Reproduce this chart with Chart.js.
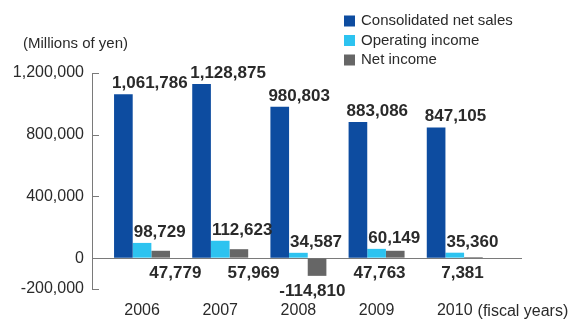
<!DOCTYPE html>
<html>
<head>
<meta charset="utf-8">
<script src="https://cdn.jsdelivr.net/npm/chart.js@4.4.1/dist/chart.umd.min.js"></script>
<style>
  html, body { margin: 0; padding: 0; background: #ffffff; }
  #wrap { width: 578px; height: 320px; position: relative; }
</style>
</head>
<body>
<div id="wrap"><canvas id="chart" width="578" height="320"></canvas></div>
<script>
// Fiscal years and results, millions of yen
const categories = ['2006', '2007', '2008', '2009', '2010'];
const netSales = [1061786, 1128875, 980803, 883086, 847105];
const operatingIncome = [98729, 112623, 34587, 60149, 35360];
const netIncome = [47779, 57969, -114810, 47763, 7381];
const yTicks = [-200000, 0, 400000, 800000, 1200000];

const seriesNames = ['Consolidated net sales', 'Operating income', 'Net income'];
const seriesColors = ['#0d4ca0', '#2dc3f0', '#666666'];
const netLabelAlign = ['left', 'left', 'center', 'right', 'right'];

const FONT = '"Liberation Sans", Arial, Helvetica, sans-serif';
const TEXT = '#2a2a2a';
const AXIS = '#7a7a7a';

const toPoints = arr => arr.map((v, i) => ({ x: i, y: v }));
const fmt = v => v.toLocaleString('en-US');

// value labels, axis tick marks, unit caption and stacked legend
const decorations = {
  id: 'decorations',
  afterDatasetsDraw(chart) {
    const ctx = chart.ctx;
    ctx.save();
    ctx.fillStyle = TEXT;
    ctx.font = 'bold 17px ' + FONT;
    ctx.textBaseline = 'alphabetic';
    chart.data.datasets.forEach((ds, di) => {
      const meta = chart.getDatasetMeta(di);
      meta.data.forEach((bar, i) => {
        const v = ds.data[i].y;
        const half = bar.width / 2;
        if (di < 2) {
          ctx.textAlign = 'left';
          const x = di === 0 ? bar.x - half - 2 : bar.x - half + 1;
          ctx.fillText(fmt(v), x, bar.y - 6);
        } else {
          const align = netLabelAlign[i];
          ctx.textAlign = align;
          let x = bar.x - half / 2;
          if (align === 'left') x = bar.x - half - 2;
          if (align === 'right') x = bar.x + half + 1;
          ctx.fillText(fmt(v), x, Math.max(bar.y, bar.base) + 20);
        }
      });
    });
    ctx.restore();
  },
  afterDraw(chart) {
    const ctx = chart.ctx;
    const y = chart.scales.y;
    const x = chart.scales.x;
    const area = chart.chartArea;
    ctx.save();
    // inward tick marks on the value axis
    ctx.strokeStyle = AXIS;
    ctx.lineWidth = 1;
    y.ticks.forEach(t => {
      const py = Math.round(y.getPixelForValue(t.value)) + 0.5;
      ctx.beginPath();
      ctx.moveTo(area.left, py);
      ctx.lineTo(area.left + 7, py);
      ctx.stroke();
    });
    // unit caption
    ctx.fillStyle = TEXT;
    ctx.font = '15px ' + FONT;
    ctx.textAlign = 'left';
    ctx.textBaseline = 'middle';
    ctx.fillText('(Millions of yen)', 23, 44);
    // suffix after the last year label
    ctx.font = '16px ' + FONT;
    const lastX = x.getPixelForValue(categories.length - 1);
    const w = ctx.measureText(categories[categories.length - 1]).width;
    ctx.fillText('(fiscal years)', lastX + w / 2 + 5, 312);
    // legend
    ctx.font = '15px ' + FONT;
    chart.data.datasets.forEach((ds, i) => {
      const cy = 21 + i * 19.5;
      ctx.fillStyle = ds.backgroundColor;
      ctx.fillRect(344, cy - 5.5, 11, 11);
      ctx.fillStyle = TEXT;
      ctx.fillText(ds.label, 361, cy);
    });
    ctx.restore();
  }
};

new Chart(document.getElementById('chart'), {
  type: 'bar',
  data: {
    datasets: [
      { label: seriesNames[0], data: toPoints(netSales), backgroundColor: seriesColors[0] },
      { label: seriesNames[1], data: toPoints(operatingIncome), backgroundColor: seriesColors[1] },
      { label: seriesNames[2], data: toPoints(netIncome), backgroundColor: seriesColors[2] }
    ]
  },
  options: {
    responsive: false,
    animation: false,
    devicePixelRatio: 1,
    categoryPercentage: 0.716,
    barPercentage: 1.0,
    layout: { padding: { left: 0, top: 73, right: 56, bottom: 0 } },
    plugins: {
      legend: { display: false },
      tooltip: { enabled: false }
    },
    scales: {
      x: {
        type: 'linear',
        offset: false,
        min: -0.64,
        max: 4.86,
        afterBuildTicks: s => { s.ticks = categories.map((_, i) => ({ value: i })); },
        afterFit: s => { s.height = 31; },
        grid: { display: false, drawTicks: false },
        border: { display: false },
        ticks: {
          autoSkip: false,
          maxRotation: 0,
          padding: 12,
          color: TEXT,
          font: { family: FONT, size: 16 },
          callback: v => categories[v]
        }
      },
      y: {
        min: -200000,
        max: 1200000,
        afterBuildTicks: s => { s.ticks = yTicks.map(v => ({ value: v })); },
        afterFit: s => { s.width = 92; },
        grid: {
          drawTicks: false,
          color: c => (c.tick && c.tick.value === 0 ? AXIS : 'rgba(0,0,0,0)'),
          lineWidth: 1
        },
        border: { display: true, color: AXIS, width: 1 },
        ticks: {
          padding: 8,
          color: TEXT,
          font: { family: FONT, size: 16 },
          callback: v => fmt(v)
        }
      }
    }
  },
  plugins: [decorations]
});
</script>
</body>
</html>
